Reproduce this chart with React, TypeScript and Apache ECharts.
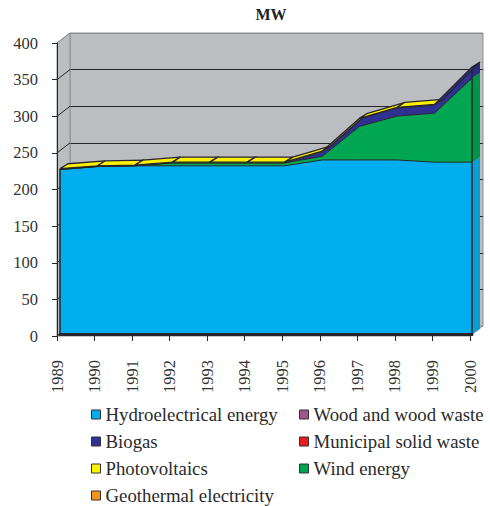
import React, { useEffect, useRef } from "react";
import * as echarts from "echarts";

const years = ["1989","1990","1991","1992","1993","1994","1995","1996","1997","1998","1999","2000"];
const hydro = [225,229,230,230,230,230,230,238,238,238,235,235];
const wind = [0,0,0,4,4,4,4,5,46,60,67,115];
const biogas = [0,0,0,0,0,0,0,6,10,11,11,15];
const pv = [1,1,1,1,1,1,1,1,1,1,1,0];
const wood = [0,0,0,0,0,0,0,0,0,0,0,0];
const municipal = [0,0,0,0,0,0,0,0,0,0,0,0];
const geothermal = [0,0,0,0,0,0,0,0,0,0,0,0];
const yTicks = [0,50,100,150,200,250,300,350,400];

const FONT = "'Liberation Serif', serif";
const DARK = "#26262a";
const WALL = "#bcbdc1";
const WALL_EDGE = "#8b9097";
const C = { hydro:"#00aeef", wind:"#00a651", biogas:"#2e3192", pv:"#fff200", wood:"#a0578a", municipal:"#ed1c24", geo:"#f7941d" };

const layers = [
  { name:"Hydroelectrical energy", values:hydro, color:C.hydro, cap:"#0c9ccf" },
  { name:"Wind energy", values:wind, color:C.wind, cap:"#00934a" },
  { name:"Biogas", values:biogas, color:C.biogas, cap:"#2a2c84" },
  { name:"Photovoltaics", values:pv, color:C.pv, cap:"#e6da00" },
];
const blank = [
  { name:"Wood and wood waste", values:wood, color:C.wood },
  { name:"Municipal solid waste", values:municipal, color:C.municipal },
  { name:"Geothermal electricity", values:geothermal, color:C.geo },
];
const cum = layers.map((_, k) => years.map((_, i) => layers.slice(0, k + 1).reduce((s, l) => s + l.values[i], 0)));
const total = cum[cum.length - 1];
const DX = 8, DY = -5;   // depth of the area slab
const WX = 13, WY = -10; // depth of the walls

const idx = years.map((_, i) => [i, 0]);

function topFaces(params: any, api: any) {
  const i = params.dataIndex;
  if (i >= years.length - 1) return null;
  let fill = C.hydro;
  for (let k = layers.length - 1; k >= 0; k--) {
    if (layers[k].values[i] > 0 && layers[k].values[i + 1] > 0) { fill = layers[k].color; break; }
  }
  const a = api.coord([i, total[i]]);
  const b = api.coord([i + 1, total[i + 1]]);
  return {
    type:"polygon",
    shape:{ points:[a, b, [b[0]+DX, b[1]+DY], [a[0]+DX, a[1]+DY]] },
    style:{ fill, stroke:DARK, lineWidth:1.3 },
  };
}

function endCap(params: any, api: any) {
  const i = years.length - 1;
  if (params.dataIndex !== 0) return null;
  const kids: any[] = [];
  layers.forEach((l, k) => {
    const lo = k === 0 ? 0 : cum[k - 1][i];
    const hi = cum[k][i];
    if (hi <= lo) return;
    const a = api.coord([i, lo]);
    const b = api.coord([i, hi]);
    kids.push({
      type:"polygon",
      shape:{ points:[a, b, [b[0]+DX, b[1]+DY], [a[0]+DX, a[1]+DY]] },
      style:{ fill:l.cap, stroke:"none" },
    });
  });
  const bottom = api.coord([i, 0]);
  const top = api.coord([i, total[i]]);
  const left0 = api.coord([0, 0]);
  const leftTop = api.coord([0, total[0]]);
  kids.push({ type:"line", shape:{ x1:bottom[0], y1:bottom[1], x2:top[0], y2:top[1] }, style:{ stroke:DARK, lineWidth:1.5 } });
  kids.push({ type:"line", shape:{ x1:left0[0], y1:left0[1], x2:leftTop[0], y2:leftTop[1] }, style:{ stroke:DARK, lineWidth:1.5 } });
  return { type:"group", children:kids };
}

function shell(params: any, api: any) {
  if (params.dataIndex !== 0) return null;
  const p0 = api.coord([0, 0]);
  const pT = api.coord([0, 400]);
  const pR = api.coord([years.length - 1, 0]);
  return {
    type:"group",
    children:[
      { type:"polygon", shape:{ points:[p0, pT, [pT[0]+WX, pT[1]+WY], [p0[0]+WX, p0[1]+WY]] }, style:{ fill:WALL, stroke:WALL_EDGE, lineWidth:1 } },
      { type:"polygon", shape:{ points:[p0, pR, [pR[0]+WX, pR[1]+WY], [p0[0]+WX, p0[1]+WY]] }, style:{ fill:"#d2d3d6", stroke:WALL_EDGE, lineWidth:1 } },
    ],
  };
}

function wallTick(params: any, api: any) {
  const v = yTicks[params.dataIndex];
  const p = api.coord([0, v]);
  return {
    type:"line",
    shape:{ x1:p[0], y1:p[1], x2:p[0]+WX, y2:p[1]+WY },
    style:{ stroke: v === 400 ? WALL_EDGE : DARK, lineWidth:1 },
  };
}

const backLineColors = yTicks.map((v) => (v === 400 ? WALL_EDGE : DARK));

export default function App() {
  const ref = useRef<HTMLDivElement>(null);
  useEffect(() => {
    const chart = echarts.init(ref.current!, undefined, { renderer:"svg" });
    const legendBase = {
      orient:"vertical" as const,
      icon:"rect",
      itemWidth:9,
      itemHeight:9,
      itemGap:8,
      selectedMode:false,
      itemStyle:{ borderColor:"#333", borderWidth:1 },
      textStyle:{ fontFamily:FONT, fontSize:18.8, color:"#2a2a2a", padding:[0,0,0,0], height:17, lineHeight:17 },
      padding:0,
    };
    chart.setOption({
      animation:false,
      backgroundColor:"#fff",
      textStyle:{ fontFamily:FONT },
      title:{
        text:"MW", left:266, top:1, textAlign:"center",
        textStyle:{ fontFamily:FONT, fontSize:16, fontWeight:"bold", color:"#222" },
      },
      legend:[
        { ...legendBase, left:91, top:405, data:["Hydroelectrical energy","Biogas","Photovoltaics"] },
        { ...legendBase, left:91, top:486, data:["Geothermal electricity"] },
        { ...legendBase, left:299, top:405, data:["Wood and wood waste","Municipal solid waste","Wind energy"] },
      ],
      grid:[
        { left:57, right:20, top:43, bottom:170, show:false },
        { left:70, right:7, top:33, bottom:180, show:true, backgroundColor:WALL, borderColor:WALL_EDGE, borderWidth:1 },
        { left:60, right:18, top:41.5, bottom:172, show:false },
      ],
      xAxis:[
        {
          gridIndex:0, type:"category", data:years, boundaryGap:false, z:5,
          axisLine:{ show:false },
          axisTick:{ show:true, length:5, alignWithLabel:true, lineStyle:{ color:DARK, width:1 } },
          axisLabel:{ rotate:90, margin:24, interval:0, fontFamily:FONT, fontSize:16.5, color:"#333" },
        },
        { gridIndex:1, type:"category", data:years, boundaryGap:false, show:false },
        {
          gridIndex:2, type:"category", data:years, boundaryGap:false, z:6,
          axisLine:{ show:true, lineStyle:{ color:DARK, width:3 } },
          axisTick:{ show:false }, axisLabel:{ show:false },
        },
      ],
      yAxis:[
        {
          gridIndex:0, type:"value", min:0, max:400, interval:50, z:5,
          axisLine:{ show:true, lineStyle:{ color:DARK, width:1 } },
          axisTick:{ show:true, length:5, lineStyle:{ color:DARK, width:1 } },
          axisLabel:{ margin:19, fontFamily:FONT, fontSize:16.5, color:"#333" },
          splitLine:{ show:false },
        },
        {
          gridIndex:1, type:"value", min:0, max:400, interval:50,
          axisLine:{ show:false }, axisTick:{ show:false }, axisLabel:{ show:false },
          splitLine:{ show:true, lineStyle:{ color:backLineColors, width:1 } },
        },
        {
          gridIndex:2, type:"value", min:0, max:400, interval:50,
          axisLine:{ show:false }, axisTick:{ show:false }, axisLabel:{ show:false },
          splitLine:{ show:false },
        },
      ],
      series:[
        { type:"custom", xAxisIndex:0, yAxisIndex:0, z:1, silent:true, renderItem:shell, data:[[0,0]] },
        { type:"custom", xAxisIndex:0, yAxisIndex:0, z:1, silent:true, renderItem:wallTick, data:yTicks.map((v) => [0, v]) },
        ...layers.map((l) => ({
          name:l.name, type:"line", xAxisIndex:2, yAxisIndex:2, stack:"mw", data:l.values, z:2,
          showSymbol:false, symbol:"none",
          lineStyle:{ color:DARK, width:1 },
          itemStyle:{ color:l.color },
          areaStyle:{ color:l.color, opacity:1 },
        })),
        ...blank.map((l) => ({
          name:l.name, type:"line", xAxisIndex:2, yAxisIndex:2, data:l.values, z:0,
          showSymbol:false, symbol:"none",
          lineStyle:{ width:0, color:l.color },
          itemStyle:{ color:l.color },
        })),
        { type:"custom", xAxisIndex:2, yAxisIndex:2, z:3, silent:true, renderItem:endCap, data:[[0,0]] },
        { type:"custom", xAxisIndex:2, yAxisIndex:2, z:4, silent:true, renderItem:topFaces, data:idx },
      ],
    });
    return () => chart.dispose();
  }, []);
  return <div ref={ref} style={{ position:"fixed", left:0, top:0, width:490, height:506 }} />;
}
